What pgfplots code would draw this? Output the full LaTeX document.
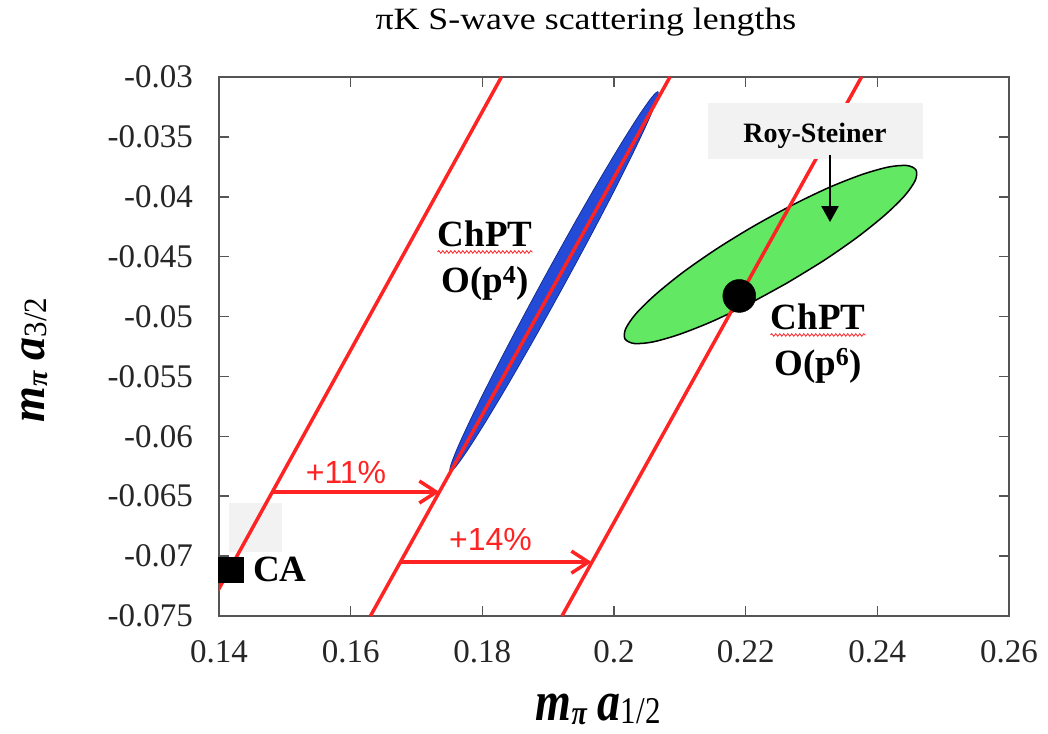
\documentclass[border=0pt]{standalone}
\usepackage{fontspec}
\setmainfont{Liberation Serif}
\newfontfamily\arialfont{Liberation Sans}
\usepackage{pgfplots}
\pgfplotsset{compat=1.18}
\usetikzlibrary{arrows.meta,decorations.pathmorphing}
\definecolor{plotred}{RGB}{255,35,35}
\definecolor{ellblue}{RGB}{35,75,215}
\definecolor{ellblueedge}{RGB}{20,45,150}
\definecolor{ellgreen}{RGB}{98,232,98}
\definecolor{boxgray}{RGB}{242,242,242}
\definecolor{framegray}{RGB}{85,85,85}

\newcommand{\lblfont}{\fontsize{46}{50}\selectfont\bfseries\itshape}
\newcommand{\subpi}{\raisebox{-0.36em}{\fontsize{28}{28}\selectfont\bfseries\itshape π}}
\newcommand{\axlabel}[2]{\scalebox{1}[#2]{{\lblfont m}\subpi\hspace{11pt}{\lblfont a}\raisebox{-0.26em}{\fontsize{31}{31}\selectfont #1}}}

\begin{document}
\begin{tikzpicture}
\begin{axis}[
  at={(0pt,0pt)}, anchor=south west,
  scale only axis, width=790pt, height=539pt,
  xmin=0.14, xmax=0.26, ymin=-0.075, ymax=-0.03,
  scaled x ticks=false, scaled y ticks=false,
  xtick={0.14,0.16,0.18,0.2,0.22,0.24,0.26},
  xticklabels={0.14,0.16,0.18,0.2,0.22,0.24,0.26},
  ytick={-0.075,-0.07,-0.065,-0.06,-0.055,-0.05,-0.045,-0.04,-0.035,-0.03},
  yticklabels={-0.075,-0.07,-0.065,-0.06,-0.055,-0.05,-0.045,-0.04,-0.035,-0.03},
  tick align=inside, major tick length=10pt,
  tick pos=both, ticklabel pos=left,
  axis line style={framegray, line width=1.5pt},
  tick style={framegray, line width=1.5pt},
  xticklabel style={font=\fontsize{33}{38}\selectfont, text=black!85, inner sep=0pt,
    anchor=north, yshift=-24pt},
  yticklabel style={font=\fontsize{33}{38}\selectfont, text=black!85, inner sep=0pt,
    anchor=east, xshift=-26pt},
  title={\scalebox{1.155}[1]{πK S-wave scattering lengths}},
  title style={at={(axis description cs:0.4646,1.0779)}, anchor=base,
    inner sep=0pt, font=\fontsize{31}{35}\selectfont},
  xlabel={\axlabel{1/2}{1.22}},
  xlabel style={at={(axis description cs:0.480,-0.193)}, anchor=base, inner sep=0pt},
  ylabel={\axlabel{3/2}{1.05}},
  ylabel style={at={(axis description cs:-0.2215,0.475)}, anchor=base, inner sep=0pt},
]

% faint box behind CA
\node[fill=boxgray, minimum width=53pt, minimum height=49pt, inner sep=0pt]
  at (axis cs:0.14554,-0.06761) {};

% ChPT O(p^4) band
\addplot[fill=ellblue, draw=ellblueedge, line width=0.8pt, smooth] coordinates {
  (0.19228,-0.04751) (0.18815,-0.05160) (0.18420,-0.05539) (0.18071,-0.05860)
  (0.17790,-0.06104) (0.17599,-0.06252) (0.17509,-0.06295) (0.17527,-0.06230)
  (0.17650,-0.06062) (0.17872,-0.05801) (0.18177,-0.05466) (0.18545,-0.05079)
  (0.18949,-0.04667) (0.19362,-0.04258) (0.19757,-0.03879) (0.20106,-0.03558)
  (0.20387,-0.03314) (0.20579,-0.03166) (0.20668,-0.03123) (0.20650,-0.03188)
  (0.20527,-0.03357) (0.20305,-0.03617) (0.20000,-0.03953) (0.19633,-0.04339)
  (0.19228,-0.04751)};

% Roy-Steiner ellipse
\addplot[fill=ellgreen, draw=black, line width=1.5pt, smooth] coordinates {
  (0.22629,-0.04720) (0.22048,-0.04894) (0.21490,-0.05041) (0.20992,-0.05149)
  (0.20589,-0.05212) (0.20308,-0.05225) (0.20167,-0.05187) (0.20178,-0.05101)
  (0.20337,-0.04974) (0.20637,-0.04813) (0.21054,-0.04628) (0.21562,-0.04434)
  (0.22125,-0.04244) (0.22707,-0.04070) (0.23264,-0.03923) (0.23763,-0.03815)
  (0.24165,-0.03752) (0.24448,-0.03739) (0.24587,-0.03776) (0.24577,-0.03862)
  (0.24417,-0.03990) (0.24118,-0.04151) (0.23700,-0.04336) (0.23193,-0.04530)
  (0.22629,-0.04720)};

% ChPT O(p^6) point and current algebra point
\addplot[only marks, mark=*, mark size=16.5pt, black] coordinates {(0.21903,-0.04828)};
\addplot[only marks, mark=square*, mark size=12.5pt, black] coordinates {(0.14175,-0.07112)};

% red lines
\addplot[plotred, line width=3.5pt] coordinates {(0.1377,-0.0750) (0.1829,-0.0300)};
\addplot[plotred, line width=3.5pt] coordinates {(0.1630,-0.0750) (0.2085,-0.0300)};
\addplot[plotred, line width=3.5pt] coordinates {(0.1921,-0.0750) (0.2376,-0.0300)};

% shift arrows
\addplot[plotred, line width=3.5pt, -{Straight Barb[length=17pt,width=22pt]}]
  coordinates {(0.1482,-0.06465) (0.1735,-0.06465)};
\addplot[plotred, line width=3.5pt, -{Straight Barb[length=17pt,width=22pt]}]
  coordinates {(0.1676,-0.0705) (0.1966,-0.0705)};

% Roy-Steiner label
\node[fill=boxgray, minimum width=215pt, minimum height=56pt, inner sep=0pt]
  at (axis cs:0.23061,-0.03451) {};
\node[anchor=base, inner sep=0pt, font=\fontsize{28}{32}\selectfont\bfseries]
  at (axis cs:0.23053,-0.03543) {Roy-Steiner};
\addplot[black, line width=2.5pt, -{Triangle[length=16pt,width=17pt]}]
  coordinates {(0.23281,-0.03651) (0.23281,-0.04211)};

% text labels
\node[anchor=base, inner sep=0pt, text=plotred, font=\arialfont\fontsize{32}{38}\selectfont]
  at (axis cs:0.15929,-0.06390) {+11\%};
\node[anchor=base, inner sep=0pt, text=plotred, font=\arialfont\fontsize{32}{38}\selectfont]
  at (axis cs:0.18124,-0.06949) {+14\%};
\node[anchor=base west, inner sep=0pt, font=\fontsize{37}{42}\selectfont\bfseries]
  at (axis cs:0.14516,-0.07216) {CA};

\node[anchor=base, inner sep=0pt, font=\fontsize{37}{42}\selectfont\bfseries] (c4)
  at (axis cs:0.18041,-0.04419) {ChPT};
\node[anchor=base, inner sep=0pt, font=\fontsize{37}{42}\selectfont\bfseries]
  at (axis cs:0.18041,-0.04803) {O(p\textsuperscript{4})};
\node[anchor=base, inner sep=0pt, font=\fontsize{37}{42}\selectfont\bfseries] (c6)
  at (axis cs:0.23099,-0.05112) {ChPT};
\node[anchor=base, inner sep=0pt, font=\fontsize{37}{42}\selectfont\bfseries]
  at (axis cs:0.23098,-0.05488) {O(p\textsuperscript{6})};
\draw[plotred, line width=0.8pt, decorate, decoration={snake, amplitude=1.3pt, segment length=4pt}]
  ([yshift=-5pt]c4.base west) -- ([yshift=-5pt]c4.base east);
\draw[plotred, line width=0.8pt, decorate, decoration={snake, amplitude=1.3pt, segment length=4pt}]
  ([yshift=-5pt]c6.base west) -- ([yshift=-5pt]c6.base east);
\end{axis}
\pgfresetboundingbox
\path[use as bounding box] (-219pt,-117pt) rectangle (829pt,616pt);
\end{tikzpicture}
\end{document}
